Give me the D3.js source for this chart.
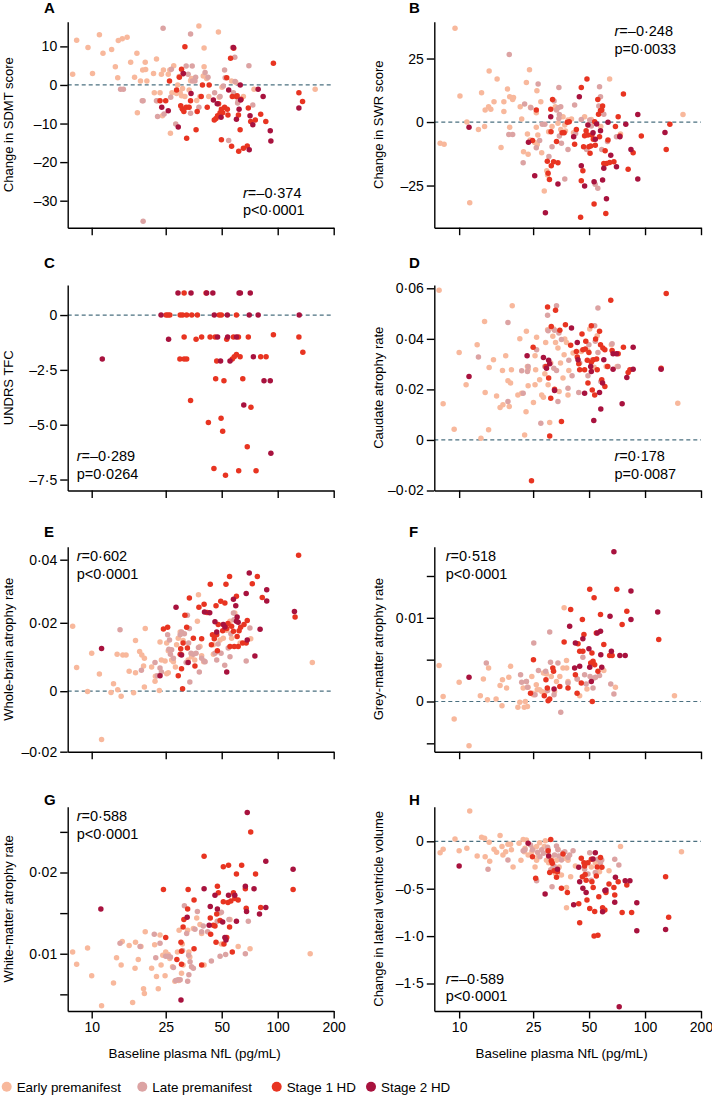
<!DOCTYPE html>
<html><head><meta charset="utf-8">
<script src="https://cdn.jsdelivr.net/npm/d3@7"></script>
<style>
html,body{margin:0;padding:0;background:#fff;}
svg{display:block;font-family:"Liberation Sans",Arial,sans-serif;}
</style></head><body>
<svg id="chart" width="712" height="1095"></svg>
<script>
// ---------- DATA ----------
const groupNames = ["Early premanifest","Late premanifest","Stage 1 HD","Stage 2 HD"];
const xTicks = [10,25,50,100,200];
const xLabels = ["10","25","50","100","200"];

// Panel A: Change in SDMT score
const aEarly = [[7.9,2.8],[8.3,11.6],[9.55,9.7],[10.1,3.0],[11,13],[11.5,8.2],[12.8,9.2],[13.4,4.7],[13.8,1.9],[13.9,11.5],[14.6,12],[15.5,12.4],[16.2,5.9],[17,2.0],[17.5,8.2],[17.6,-7.2],[18.3,1.0],[18.8,3.9],[19.4,5.9],[19.5,4.0],[19.8,1.0],[21.5,3.0],[21.7,-2.0],[22.3,6.7],[22.5,-4.1],[23.3,-2.0],[23.7,2.8],[24,-8.0],[24.3,3.9],[25.8,2.8],[26.3,3.9],[26.5,-12.5],[27,-2.0],[27.6,5.0],[28.6,-2.2],[29,0],[29.5,2.2],[29.9,-2.0],[30.4,-2.8],[30.8,-0.9],[31.7,-3.0],[33,-5.8],[33.4,-1.3],[34,1.1],[34.4,1.7],[36.7,-4.0],[37.7,15.3],[38.2,-3.0],[39.8,2.3],[40.2,9.6],[40.2,4.7],[41.5,1.7],[42.6,-3.0],[48,13.7],[48.5,-3.2],[50.2,-0.6],[56.5,1.0],[59,-3.0],[59.5,0.7],[65.4,-3.0],[74.6,-1.1],[159,-1.1]];
const aLate = [[14.3,-1.1],[14.8,-1.1],[18.7,-4.1],[18.9,-4.1],[22.3,-4.1],[22.6,-8.2],[24.2,14.7],[24.5,-7.5],[26.6,-3.2],[26.8,4.1],[28.3,-10.1],[30.4,-6.0],[30.8,2.8],[32.2,4.9],[33,2.8],[34,13.2],[34,-7.3],[34.7,4.9],[34.8,1.0],[35.9,1.0],[36.2,2.0],[37.7,-5.8],[40.7,3.2],[42.2,2.0],[45.8,-2.0],[49,-3.0],[51,-0.3],[51.8,3.9],[52.2,1.9],[54.5,-14.4],[57.2,9.7],[57.8,-2.0],[58.8,7.2],[59,0.9],[60.9,-4.7],[61.3,-4.1],[70,5.0],[73.5,-5.2],[18.9,-35.3]];
const aStage1 = [[23.3,-4.1],[25,-4.1],[26.2,1.0],[28.6,-1.3],[29.6,2.0],[30.1,-5.4],[30.4,4.1],[30.8,-6.3],[31.3,-6.9],[31.7,9.9],[32.2,-5.8],[32.4,-13.8],[33.4,-5.8],[34,-4.1],[36.4,-11.6],[36.9,-6.9],[38.8,-3.0],[39.4,0],[41.8,-5.8],[42.8,0],[45.6,-9.1],[46.6,-8.7],[47.5,-8.0],[48.1,-4.9],[49,-7.2],[49.8,-6.3],[49.8,-14.2],[50.6,-7.2],[51.8,-5.8],[53.2,1.9],[53.6,-6.3],[54,-7.8],[55.8,6.9],[56.5,-15.9],[57,-3.0],[58,9.5],[60,-3.0],[60.5,-2.8],[61.5,-7.8],[61.7,-17.2],[62.8,-11.6],[63.5,-3.7],[65.4,-16.4],[68.6,-15.8],[69.5,-6.0],[71.6,-9.5],[75.8,-9.1],[81,-7.6],[86.3,-9.5],[94.8,5.6],[130,-2.0],[136,-4.3]];
const aStage2 = [[23.8,-5.8],[25.8,-6.7],[29.2,-10.9],[31.1,3.0],[34.2,-2.2],[45.1,-3.9],[47.3,-4.9],[49.6,-8.4],[54.5,-1.3],[57.8,9.7],[60,-8.9],[62,-6.3],[62.9,0],[63.2,-3.9],[71,-8.0],[73.5,-10.3],[70.3,-16.8],[78.5,-1.1],[83.5,-3.0],[91.2,-11.9],[91.9,-14.5],[130,-6.0]];
const aTicks = [10,0,-10,-20,-30];
const aTickLabels = ["10","0","–10","–20","–30"];

// Panel B: Change in SWR score
const bEarly = [[7.9,-8.4],[8.3,-8.7],[9.5,36.9],[10.1,10.2],[11,0],[11.4,-31.8],[12.7,-2.9],[13.2,11.5],[13.7,-1.8],[13.8,4.7],[14.4,6.0],[14.5,20.1],[14.8,5.0],[15.4,8.0],[16,16.9],[16.8,-10],[17.4,4.1],[17.4,8.0],[18.2,13],[18.7,10],[18.7,-2.1],[19.4,8.9],[19.6,9.7],[21.3,6.0],[21.7,1.2],[22.2,-11.7],[23,15.6],[23.3,-4.7],[23.5,-12.7],[23.9,20.6],[24.1,-7.1],[24.2,5.8],[25.5,-8.1],[26,3.7],[26,-2.1],[26.2,12.3],[26.3,-8.8],[26.5,-5.1],[27.5,8.0],[27.8,-12.1],[28.7,-27.2],[29.6,-19.2],[29.9,-20.9],[30.3,-3.8],[31.6,-1.8],[32.9,6.0],[34,-0.5],[35.2,-2.9],[36.2,2.1],[37,-1.2],[37.3,-3.5],[38.5,0.8],[40.2,1.2],[41.2,-4.2],[47.3,2.1],[49.4,-1.2],[51.4,1.0],[57.8,-1.8],[64.5,16.9],[160,3.0],[73.8,-4.7]];
const bLate = [[18.6,26.6],[18.5,-4.9],[19.4,-4.9],[22.5,7.1],[22.1,-16],[24.3,5.6],[26,-10.1],[26.6,15],[27.1,-7.3],[28,-0.9],[28.9,-0.9],[30.4,-13.6],[31.6,-9.7],[32.4,8.3],[33.4,4.7],[34.1,5.6],[34.4,13.6],[34.6,3.0],[35.2,6.0],[34.4,1.4],[34.6,-5.5],[35.5,-8.4],[37,-22.4],[38.5,-10.8],[41.8,6.7],[42.3,-4.5],[45.4,1.0],[48.5,-10.8],[50.4,0.8],[51.4,-1.6],[53.9,-24.5],[55.7,-26.1],[56.4,6.3],[56.9,13.9],[57.6,10.0],[58.5,-10.8],[60,3.1],[62.8,-7.7],[70.2,-5.8]];
const bStage1 = [[24.8,-7.3],[26,4.7],[29.8,-15.4],[30.1,-20.2],[30.6,-22.6],[31.1,5.0],[31.2,-3.8],[31.3,-17.2],[31.8,8.9],[32.2,-15.6],[33.4,-7.7],[34,-16],[35.8,-4.2],[36.7,-4.2],[38.2,-0.1],[39.1,0.1],[41.8,-8.7],[42.7,-2.9],[45.4,13.6],[45,-37.5],[45.4,-23.1],[46.3,-19.2],[46.7,-9.7],[47.3,-5.4],[48.2,-3.4],[48.7,16.9],[49.3,-5.1],[49.9,-9.7],[50.6,-12.3],[51,-9.4],[51.8,-5.1],[52.7,-6.8],[53.2,-32.3],[53.6,0.1],[54,-9.1],[55.7,8.9],[56.2,3.1],[56.9,-5.8],[57.6,4.5],[58.5,4.7],[59.1,6.3],[60,-16.3],[61,-11.3],[61.5,-36],[62,-16.3],[63.2,-7.1],[64.5,-15.9],[68,-15.6],[69.3,-1.8],[71.7,2.1],[73.2,-5.5],[76.5,11],[81.1,-18.6],[86.3,-12.1],[95.5,-5.5],[136,-0.9],[130,-10.8]];
const bStage2 = [[11.3,-2.1],[23.6,-8.0],[25.5,-21.1],[29.1,-35.7],[31.1,2.1],[34,-24.4],[41.3,-5.8],[44.3,10],[45.4,-17.2],[47.3,-25.2],[49.3,-1.2],[52.5,-4.2],[53.2,-23.5],[54,-6.8],[54.9,-0.8],[57.6,-3.4],[59.1,-22.8],[60,-18.2],[62,-30.2],[63.2,-0.1],[65.4,-13.1],[70.2,-17.6],[73.2,-5.8],[78.8,-0.9],[84,-10.8],[91.4,3.0],[91.4,-22.4],[128,-4.1]];
const bTicks = [25,0,-25];
const bTickLabels = ["25","0","–25"];

// Panel C: UNDRS TFC (HD only)
const cEarly = [];
const cLate = [];
const cStage1 = [[25.1,0],[25.7,0],[26.3,0],[29.8,-2.0],[29.9,0],[30.8,0],[31.4,1.0],[31.4,-1.0],[31.4,-2.0],[32.4,-2.0],[32.4,0],[34,-3.9],[34.5,0],[36.4,-1.1],[37,0],[39,-1.0],[41.2,1.0],[42.4,-4.9],[43.3,-1.0],[45.4,-7.0],[46.1,-1.0],[46.4,-2.9],[47,-2.1],[48.5,0],[49.8,0],[49.6,-4.7],[50.6,-5.3],[51.4,-3.0],[52.4,-7.3],[53.2,-1.1],[57,-2.0],[57.8,-1.0],[58.4,-1.9],[60,-1.8],[60,0],[61.5,-1.0],[61.7,-7.1],[62.8,-1.9],[64.9,-2.9],[68.6,-6.0],[69.5,-1.0],[71.8,-4.2],[76.5,-7.1],[81,-1.9],[86.6,-1.9],[94.8,-0.9],[130,-1.0],[136.5,-1.7]];
const cStage2 = [[11.4,-2.0],[23.6,0],[25.9,-1.1],[29.1,1.0],[34.2,1.0],[41.5,1.0],[44.8,1.0],[45.6,0],[47.5,-1.0],[49.3,-2.1],[53.6,0],[53.8,-1.0],[55.4,-2.1],[60,-1.0],[62,1.0],[63,1.0],[65.7,-4.1],[70.3,0],[71.2,1.0],[74,-1.9],[78.5,0],[84.4,-3.0],[91.2,-3.0],[91.9,-6.3],[130.5,0]];
const cTicks = [0,-2.5,-5,-7.5];
const cTickLabels = ["0","–2·5","–5·0","–7·5"];

// Panel D: Caudate atrophy rate
const dEarly = [[7.8,.0592],[8.2,.0143],[9.4,.0042],[10,.0346],[10.9,.0218],[12.5,.0377],[13.1,.0007],[13.7,.0469],[13.8,.0188],[14.4,.0040],[14.5,.0287],[15.3,.0317],[15.9,.0174],[16.6,.0128],[17.1,.0275],[17.2,.0139],[17.8,.0333],[18.3,.0234],[18.6,.0132],[18.9,.0225],[19.1,.0278],[19.3,.0531],[20.7,.0178],[21.2,.0400],[21.7,.0185],[22.5,.0020],[22.9,.0112],[23,.0430],[23.3,.0291],[23.5,.0214],[23.5,.0280],[25.1,.0148],[25.6,.0333],[25.6,.0218],[25.8,.0278],[26.1,.0406],[27.1,.0238],[27.8,.0178],[28.4,.0169],[28.9,.0262],[29.2,.0386],[29.9,.0436],[30.1,.0218],[30.7,.0069],[31.1,.0304],[31.9,.0410],[32.3,.0439],[33,.0386],[34,.0364],[34.5,.0192],[35.1,.0304],[36.2,.0245],[36.7,.0337],[37,.0399],[37.8,.0386],[38.5,.0178],[38.9,.0275],[41,.0344],[45.4,.0350],[49.3,.0353],[50.4,.0439],[53.2,.0288],[55.3,.0412],[61.8,.0291],[65.9,.0377],[70.8,.0291],[150,.0145]];
const dLate = [[12.7,.0328],[18.3,.0465],[18.3,.0152],[21.7,.0274],[22.1,.0185],[23.5,.0291],[23.3,.0271],[26.1,.0357],[27.5,.0066],[28.9,.0291],[29.9,.0493],[30.1,.0432],[32.3,.0284],[32.6,.0434],[33.4,.0531],[33.4,.0275],[34,.0152],[34.4,.0423],[35.5,.0397],[38.5,.0205],[38.9,.0315],[40.5,.0254],[44,.0188],[44.5,.0304],[49.3,.0254],[49.9,.0377],[51.8,.0315],[53.6,.0452],[54,.0390],[55.8,.0522],[55.8,.0346],[57.8,.0231],[63.2,.0291],[66.5,.0381],[71.7,.0291]];
const dStage1 = [[25,.0367],[29.3,.0291],[29.9,.0526],[30.3,.0245],[30.7,.0016],[31.1,.0165],[31.3,.0449],[32.6,.0201],[33,.0513],[34.8,.0434],[35.5,.0073],[37.3,.0456],[39.8,.0375],[42.7,.0350],[43.2,.0328],[44,.0301],[44.5,.0278],[45.8,.0419],[46.3,.0357],[47.3,.0278],[47.7,.0360],[48,.0390],[48.9,.0315],[49.3,.0225],[49.9,.0346],[51.4,.0307],[51.4,.0452],[52,.0198],[52.7,.0317],[53.6,.0178],[54.2,.0399],[54.9,.0320],[55.3,.0278],[56.9,.0430],[57.6,.0377],[58.5,.0238],[59.3,.0364],[60.8,.0211],[60.8,.0357],[62.8,.0291],[65.4,.0553],[66.5,.0354],[71.7,.0341],[76.5,.0367],[81.1,.0267],[82.9,.0278],[122,.0284],[130,.0579],[24.5,-.0161]];
const dStage2 = [[11.3,.0251],[23.2,.0333],[28.4,.0326],[29.5,.0284],[30.3,.0315],[30.7,.0301],[32.6,.0196],[40.2,.0443],[43.2,.0386],[43.6,.0317],[47.3,.0185],[51,.0291],[51.4,.0271],[53,.0077],[56.9,.0188],[57.8,.0122],[60,.0317],[59.1,.0225],[67.3,.0280],[67.3,.0341],[70.2,.0341],[75.3,.0143],[79.8,.0247],[86.3,.0367],[86.3,.0280],[122,.0280]];
const dTicks = [0.06,0.04,0.02,0,-0.02];
const dTickLabels = ["0·06","0·04","0·02","0","–0·02"];

// Panel E: Whole-brain atrophy rate
const eEarly = [[7.9,.0190],[8.3,.0069],[9.5,-.0001],[10,.0111],[11,.0050],[11.3,-.0160],[12.7,-.0004],[13.1,.0022],[13.7,.0108],[13.8,.0004],[14.4,-.0017],[14.7,.0106],[15.3,.0106],[15.9,.0058],[16.8,-.0005],[17.2,.0148],[17.2,.0054],[18.1,.0116],[18.6,.0106],[19,.0074],[19.2,.0012],[19.4,.0183],[19.2,.0096],[21,.0071],[21.9,.0029],[22,.0044],[23.1,.0002],[23.3,.0144],[23.7,.0091],[24.8,.0088],[25.3,.0141],[25.3,.0051],[25.8,.0054],[25.8,.0118],[26.9,.0091],[27.5,.0086],[28.2,.0071],[28.6,.0136],[29.2,.0155],[29.9,.0173],[30.4,.0108],[31,.0148],[33,.0091],[34.4,.0101],[35.8,.0091],[37,.0205],[37.5,.0289],[38.2,.0131],[39,.0104],[40,.0086],[45.1,.0108],[45.1,.0136],[49,.0150],[50.6,.0195],[51,.0155],[53.2,.0178],[55.4,.0205],[56.5,.0155],[58.8,.0231],[62.8,.0141],[71.6,.0153],[153.5,.0084]];
const eLate = [[14.2,.0180],[18.5,.0061],[21.9,.0084],[22.5,.0045],[23.3,.0068],[23.7,.0056],[25.6,.0165],[26,.0123],[26.2,.0150],[26.5,.0108],[26.9,.0121],[27.5,.0096],[29.9,.0165],[30.4,.0173],[31.5,.0168],[32.2,.0084],[32.7,.0224],[33.2,.0141],[33.5,.0183],[33.7,.0027],[34.2,.0111],[35.2,.0108],[36.4,.0111],[37.5,.0128],[37.9,.0056],[39,.0096],[40.2,.0088],[40.7,.0086],[46,.0111],[47,.0091],[47.8,.0138],[49.6,.0111],[51.9,.0076],[54.2,.0126],[55.4,.0101],[56,.0168],[57.8,.0231],[58.2,.0210],[67.7,.0088],[70.9,.0185]];
const eStage1 = [[24.3,.0182],[25.6,.0187],[29.2,.0045],[29.9,.0108],[30.1,.0124],[30.4,.0066],[30.8,.0007],[31,.0141],[31.7,.0224],[32.4,.0187],[33.5,.0279],[32.7,.0126],[35.2,.0155],[35.9,.0074],[37.7,.0249],[39,.0153],[40.2,.0259],[41.7,.0233],[43.4,.0322],[44,.0136],[44.6,.0165],[45.6,.0153],[46.6,.0254],[47,.0165],[47.4,.0118],[47.9,.0195],[49.4,.0268],[50.6,.0177],[52,.0263],[52.7,.0322],[53.2,.0183],[54,.0198],[55.1,.0347],[55.4,.0131],[56.5,.0190],[57.8,.0175],[58.4,.0131],[60,.0284],[60.5,.0160],[61.3,.0131],[62,.0177],[63.2,.0187],[64.8,.0141],[65.9,.0195],[67.7,.0141],[68.6,.0207],[73,.0324],[77.7,.0347],[82.6,.0280],[124,.0218],[129.5,.0415]];
const eStage2 = [[11.3,.0125],[23.3,.0045],[28.4,.0249],[30.4,.0106],[33,.0084],[40.4,.0234],[43.1,.0232],[46,.0203],[47,.0173],[51,.0195],[52,.0188],[53.2,.0056],[57.8,.0275],[59.5,.0254],[60.5,.0218],[60,.0205],[61.3,.0202],[67.7,.0293],[68.6,.0150],[70.3,.0358],[75.4,.0103],[80.4,.0181],[87.3,.0305],[87.3,.0269],[123,.0236]];
const eTicks = [0.04,0.02,0,-0.02];
const eTickLabels = ["0·04","0·02","0","–0·02"];

// Panel F: Grey-matter atrophy rate
const fEarly = [[7.8,.0043],[8.2,.0006],[9.4,-.0021],[10,.0023],[11.3,-.0053],[13,.0007],[13.5,.0027],[14.2,.0002],[14.4,.0040],[15.8,.0003],[16.6,.0019],[17,-.0005],[17.1,.0026],[18,.0016],[18.5,.0029],[18.9,.0042],[20.7,-.0007],[21.2,-.0001],[22.1,.0016],[22.4,-.0007],[22.7,0],[23,.0024],[23.3,-.0006],[23.5,.0017],[24.6,.0030],[24.8,.0010],[25.1,.0008],[26,.0020],[26.3,.0014],[27.1,.0014],[27.8,.0012],[28.4,.0034],[28.9,.0011],[29.5,.0033],[31.3,.0030],[32.6,.0012],[33.4,.0024],[34.8,.0030],[36.2,.0040],[36.7,.0112],[37.8,.0049],[37.9,.0040],[38.5,.0024],[43.1,.0027],[44.5,.0007],[48.7,.0015],[60,.0037],[69.3,.0017],[144,.0007]];
const fLate = [[14,.0046],[21.4,.0032],[21.7,.0023],[23,.0024],[23.3,.0017],[25.2,.0070],[25.6,.0008],[26.7,.0037],[29.2,.0036],[29.9,.0013],[30.7,.0083],[31,.0047],[32.4,.0008],[34,.0046],[35.2,-.0013],[38.5,.0022],[43.2,.0027],[46.3,.0053],[47.3,.0032],[48.2,.0021],[50.6,.0030],[52.5,.0016],[53.2,.0028],[54.2,.0029],[56.9,.0031],[65.4,.0021],[68,.0009]];
const fStage1 = [[24.2,.0010],[25.1,.0050],[28.7,.0007],[29.3,.0026],[29.8,.0016],[30.1,.0001],[30.7,.0003],[31.9,.0040],[32.2,.0036],[34.8,.0018],[36.7,.0071],[38.5,.0016],[39.8,.0110],[42.2,.0032],[43.1,.0010],[43.6,.0069],[44.5,.0060],[45.4,.0022],[46,.0098],[46.3,.0060],[46.9,.0080],[50.4,.0134],[51,.0046],[51.8,.0058],[52,0],[52.5,.0048],[53.2,.0124],[53.6,.0044],[54.7,.0082],[55.8,.0036],[57.6,.0104],[60,.0068],[64.5,.0055],[66.5,.0055],[70.5,.0134],[75.3,.0092],[79.8,.0108],[118.5,.0074]];
const fStage2 = [[11.3,.0029],[32.4,.0015],[39.3,.0090],[41.8,.0040],[42.2,.0070],[44.5,.0042],[46.3,.0075],[49.9,.0063],[50.4,.0041],[51.4,.0024],[55.3,.0082],[57.6,.0084],[57.8,.0056],[58.5,.0041],[64.8,.0102],[65.9,.0060],[68,.0179],[73.2,.0055],[78.2,.0055],[84,.0132],[84,.0098],[117,.0107]];
const fTicks = [0.015,0.01,0.005,0,-0.005];
const fTickLabels = ["","0·01","","0",""];

// Panel G: White-matter atrophy rate
const gEarly = [[7.9,.0102],[8.3,.0087],[9.5,.0107],[10,.0073],[11.3,.0036],[13.1,.0064],[13.6,.0095],[14.4,.0086],[14.6,.0115],[15.9,.0110],[16.6,.0040],[17.1,.0082],[17.2,.0114],[17.8,.0093],[18.4,.0109],[19,.0057],[19.2,.0051],[19.4,.0127],[21,.0082],[21.8,.0111],[22.3,.0072],[22.8,.0057],[23.3,.0123],[23.6,.0086],[24.1,.0098],[24.8,.0073],[25,.0102],[25.8,.0099],[26.3,.0094],[27.2,.0084],[28,.0066],[28.9,.0102],[29.4,.0067],[29.5,.0129],[30.4,.0076],[30.7,.0112],[31,.0086],[32.8,.0129],[33.3,.0102],[33.7,.0096],[35.2,.0131],[36.7,.0144],[38.2,.0136],[39,.0125],[40.2,.0086],[49,.0150],[49.8,.0112],[55.4,.0142],[61.3,.0109],[71,.0106],[149.5,.0100]];
const gLate = [[14.2,.0113],[18.2,.0109],[21.7,.0124],[22.1,.0095],[23.3,.0113],[25,.0097],[25.8,.0097],[26.5,.0096],[27.5,.0083],[28.3,.0067],[29.1,.0068],[29.9,.0068],[30.8,.0104],[31.5,.0159],[32.4,.0125],[32.8,.0066],[33.2,.0098],[33.3,.0074],[33.8,.0090],[34.4,.0084],[35.2,.0082],[35.9,.0130],[37,.0152],[39,.0127],[39.8,.0134],[42,.0127],[44,.0091],[47.3,.0140],[49,.0097],[49.8,.0151],[52.5,.0099],[54.7,.0142],[58.2,.0172],[67,.0100],[69.5,.0140]];
const gStage1 = [[25,.0120],[24.3,.0179],[28.7,.0093],[30.2,.0114],[30.4,.0087],[30.4,.0103],[31,.0133],[31.3,.0142],[32.8,.0155],[33,.0179],[35.5,.0166],[35.5,.0106],[39,.0086],[40.2,.0220],[43.4,.0144],[43.6,.0124],[45.1,.0135],[46,.0134],[46.6,.0114],[47,.0149],[47.4,.0183],[48,.0175],[49,.0141],[51,.0164],[51,.0207],[51.4,.0112],[53.2,.0120],[54,.0163],[54.4,.0209],[55.1,.0133],[56,.0165],[57,.0102],[57.8,.0175],[58.8,.0168],[60,.0198],[61.3,.0166],[64,.0209],[67,.0180],[67.7,.0156],[71.6,.0250],[76,.0198],[81,.0157],[121,.0179]];
const gStage2 = [[11.2,.0155],[30.2,.0043],[32.6,.0145],[40.2,.0180],[42.8,.0135],[43.4,.0158],[46,.0172],[47.4,.0155],[50.6,.0139],[52,.0120],[52.7,.0117],[54.4,.0172],[58.8,.0172],[60,.0140],[67,.0183],[68,.0152],[68.6,.0274],[74.6,.0180],[79.8,.0149],[86.3,.0157],[86.3,.0214],[121,.0204]];
const gTicks = [0.025,0.02,0.015,0.01,0.005];
const gTickLabels = ["","0·02","","0·01",""];

// Panel H: Change in lateral ventricle volume
const hEarly = [[7.9,-0.12],[8.2,-0.085],[9.5,0.025],[10,-0.10],[11,-0.074],[11.4,0.32],[12.5,-0.155],[13.2,0.042],[13.7,0.032],[13.8,-0.162],[14.5,-0.01],[14.6,-0.21],[15.4,-0.085],[15.9,-0.116],[16.6,0.06],[17,-0.056],[17.2,-0.144],[17.8,-0.11],[18.3,-0.03],[18.9,-0.03],[19.1,-0.09],[19.5,-0.27],[21,-0.02],[21.5,-0.20],[22.1,0.02],[22.4,-0.11],[22.6,-0.074],[23,0.014],[23.5,-0.144],[24.6,-0.11],[25,-0.074],[25.6,-0.27],[26.1,-0.056],[26.1,-0.20],[26.6,-0.155],[27.1,-0.014],[28.7,-0.056],[29.1,0.007],[29.5,-0.20],[30.1,-0.127],[30.3,-0.225],[31.3,-0.17],[32,-0.27],[32.9,-0.34],[33.4,-0.20],[34,-0.085],[34.5,-0.27],[35.5,-0.356],[37,-0.18],[37.8,-0.70],[37.8,-0.486],[38.5,-0.20],[39.8,-0.373],[42.2,-0.26],[51.4,-0.27],[54,-0.225],[56.9,-0.32],[64,-0.31],[73.8,-0.056],[157,-0.11]];
const hLate = [[14.3,-0.296],[18.3,-0.197],[22.1,-0.1],[22.6,-0.09],[24.2,-0.04],[24.8,-0.09],[26.1,-0.415],[26.4,-0.116],[27.2,-0.162],[27.8,-0.09],[28.4,-0.127],[29.9,-0.063],[30.1,-0.09],[31.1,-0.30],[31.6,-0.48],[32.4,-0.26],[32.6,-0.144],[33.4,-0.05],[34,-0.09],[34.4,-0.155],[35.5,-0.197],[36.2,-0.12],[37,-0.11],[38.5,-0.17],[39.3,-0.144],[41,-0.10],[47.3,-0.296],[49.3,-0.345],[50.4,-0.12],[51.4,-0.41],[54,-0.33],[55.8,-0.19],[57.6,-0.225],[58.5,-0.197],[68.7,-0.19],[72.3,-0.25]];
const hStage1 = [[24.8,-0.162],[25.8,-0.39],[30.1,-0.1],[30.7,-0.33],[31.1,0.02],[31.3,-0.204],[31.7,-0.232],[32.4,-0.31],[33.4,-0.38],[33.8,-0.32],[35.5,-0.496],[36.2,-0.134],[38.2,-0.54],[44,-0.66],[44.5,-0.86],[45.4,-0.18],[46,-0.373],[46.9,-0.225],[47.3,-0.26],[47.6,-0.35],[48.2,-0.41],[48.7,-0.62],[49.3,-0.225],[50.4,-0.71],[51.4,-0.19],[51.8,-0.426],[52.6,-0.486],[53.2,-1.0],[53.6,-0.74],[54.7,-0.366],[55.3,-0.27],[55.8,-0.99],[56.4,-0.585],[57.6,-0.17],[58.6,-0.275],[59.1,-0.70],[60.8,-0.725],[61.6,-0.54],[64,-0.45],[68,-0.486],[68.7,-0.567],[71.7,-0.426],[75.3,-0.75],[79.8,-0.46],[84.7,-0.75],[129,-0.373],[134,-0.80]];
const hStage2 = [[10,-0.26],[23.5,-0.021],[29,-0.556],[30.3,-0.155],[33.8,-0.296],[41.3,-0.67],[44,-0.275],[44.5,-0.426],[46.3,-0.496],[48.2,-0.54],[52.5,-0.187],[54,-0.12],[59.1,-0.743],[60.8,-0.52],[61.6,-0.514],[68.7,-0.644],[69.3,-0.38],[72.6,-1.746],[78.2,-0.415],[82.9,-0.415],[90.3,-0.648],[90.3,-0.944],[129,-0.93]];
const hTicks = [0,-0.5,-1,-1.5];
const hTickLabels = ["0","–0·5","–1·0","–1·5"];

const statsR = ["–0·374","–0·248","–0·289","0·178","0·602","0·518","0·588","–0·589"];
const statsP = ["p<0·0001","p=0·0033","p=0·0264","p=0·0087","p<0·0001","p<0·0001","p<0·0001","p<0·0001"];

// ---------- LAYOUT / STYLE ----------
const colors = ["#f8b89c","#dca3a3","#e83421","#a8123e"];
const FONT = "'Liberation Sans', Arial, sans-serif";
const cols = [{ax:67.7, xr:333.7, xmin:7.43, title:8, letter:44},
              {ax:434.3, xr:701, xmin:7.35, title:378.5, letter:409}];
const rows = [{top:21.7, bot:227.7, letterY:13},
              {top:285, bot:490.5, letterY:268},
              {top:546.7, bot:751.7, letterY:536.7},
              {top:806.7, bot:1011, letterY:805}];

const panels = [
  {id:"A", c:0, r:0, title:"Change in SDMT score", dom:[-37,16.4], series:[aEarly,aLate,aStage1,aStage2], ticks:aTicks, labels:aTickLabels, statX:243, statY:197.5},
  {id:"B", c:1, r:0, title:"Change in SWR score", dom:[-41.6,39.5], series:[bEarly,bLate,bStage1,bStage2], ticks:bTicks, labels:bTickLabels, statX:614.5, statY:36},
  {id:"C", c:0, r:1, title:"UNDRS TFC", dom:[-8.0,1.37], series:[cEarly,cLate,cStage1,cStage2], ticks:cTicks, labels:cTickLabels, statX:76.7, statY:461},
  {id:"D", c:1, r:1, title:"Caudate atrophy rate", dom:[-0.02,0.0613], series:[dEarly,dLate,dStage1,dStage2], ticks:dTicks, labels:dTickLabels, statX:614.5, statY:461},
  {id:"E", c:0, r:2, title:"Whole-brain atrophy rate", dom:[-0.02,0,0.02,0.04,0.0445], rng:[751.7,691.2,622.8,559.7,546.7], series:[eEarly,eLate,eStage1,eStage2], ticks:eTicks, labels:eTickLabels, statX:76.7, statY:561},
  {id:"F", c:1, r:2, title:"Grey-matter atrophy rate", dom:[-0.006,0.0185], series:[fEarly,fLate,fStage1,fStage2], ticks:fTicks, labels:fTickLabels, statX:445.7, statY:561},
  {id:"G", c:0, r:3, title:"White-matter atrophy rate", dom:[0.00295,0.0281], series:[gEarly,gLate,gStage1,gStage2], ticks:gTicks, labels:gTickLabels, statX:76.7, statY:821, noZero:true},
  {id:"H", c:1, r:3, title:"Change in lateral ventricle volume", dom:[-1.79,0.365], series:[hEarly,hLate,hStage1,hStage2], ticks:hTicks, labels:hTickLabels, statX:445.7, statY:983.5}
];

const svg = d3.select("#chart");

panels.forEach((p, pi) => {
  const col = cols[p.c], row = rows[p.r];
  const x = d3.scaleLog().domain([col.xmin, 200]).range([col.ax, col.xr]);
  const y = d3.scaleLinear().domain(p.dom).range(p.rng || [row.bot, row.top]);
  const g = svg.append("g");

  if (!p.noZero) {
    g.append("line").attr("x1", col.ax).attr("x2", col.xr)
      .attr("y1", y(0)).attr("y2", y(0))
      .attr("stroke", "#4b7080").attr("stroke-width", 1.2).attr("stroke-dasharray", "4,3");
  }

  p.series.forEach((s, si) => {
    g.append("g").selectAll("circle").data(s).join("circle")
      .attr("cx", d => x(d[0])).attr("cy", d => y(d[1])).attr("r", 2.75)
      .attr("fill", colors[si]);
  });

  const yAxis = d3.axisLeft(y).tickValues(p.ticks)
    .tickFormat(d => p.labels[p.ticks.indexOf(d)])
    .tickSize(7.5).tickSizeOuter(0).tickPadding(3);
  const ya = g.append("g").attr("transform", `translate(${col.ax},0)`).call(yAxis);

  const showX = p.r === 3;
  const xAxis = d3.axisBottom(x).tickValues(xTicks)
    .tickFormat(d => showX ? xLabels[xTicks.indexOf(d)] : "")
    .tickSize(7.5).tickSizeOuter(0).tickPadding(4);
  const xa = g.append("g").attr("transform", `translate(0,${row.bot})`).call(xAxis);

  [ya, xa].forEach(a => {
    a.attr("font-family", FONT).attr("font-size", 14);
    a.selectAll("path,line").attr("stroke", "#000").attr("stroke-width", 1.4);
    a.selectAll("text").attr("fill", "#000");
  });

  const cy = (row.top + row.bot) / 2;
  g.append("text").attr("transform", `translate(${col.title},${cy}) rotate(-90)`)
    .attr("text-anchor", "middle").attr("dominant-baseline", "central")
    .attr("font-family", FONT).attr("font-size", 13).attr("fill", "#000")
    .text(p.title);

  g.append("text").attr("x", col.letter).attr("y", row.letterY)
    .attr("font-family", FONT).attr("font-size", 15).attr("font-weight", "bold").attr("fill", "#000")
    .text(p.id);

  const st = g.append("text").attr("x", p.statX).attr("y", p.statY)
    .attr("font-family", FONT).attr("font-size", 14.5).attr("fill", "#000");
  st.append("tspan").attr("font-style", "italic").text("r");
  st.append("tspan").text("=" + statsR[pi]);
  g.append("text").attr("x", p.statX).attr("y", p.statY + 17.5)
    .attr("font-family", FONT).attr("font-size", 14.5).attr("fill", "#000")
    .text(statsP[pi]);

  if (showX) {
    g.append("text").attr("x", (col.ax + col.xr) / 2 - 6).attr("y", 1058)
      .attr("text-anchor", "middle").attr("font-family", FONT).attr("font-size", 13.4).attr("fill", "#000")
      .text("Baseline plasma NfL (pg/mL)");
  }
});

const legX = [6.7, 142.3, 276.7, 371];
const leg = svg.append("g");
groupNames.forEach((name, i) => {
  leg.append("circle").attr("cx", legX[i]).attr("cy", 1086.7).attr("r", 5).attr("fill", colors[i]);
  leg.append("text").attr("x", legX[i] + 10).attr("y", 1091.5)
    .attr("font-family", FONT).attr("font-size", 13.4).attr("fill", "#000").text(name);
});
</script>
</body></html>
